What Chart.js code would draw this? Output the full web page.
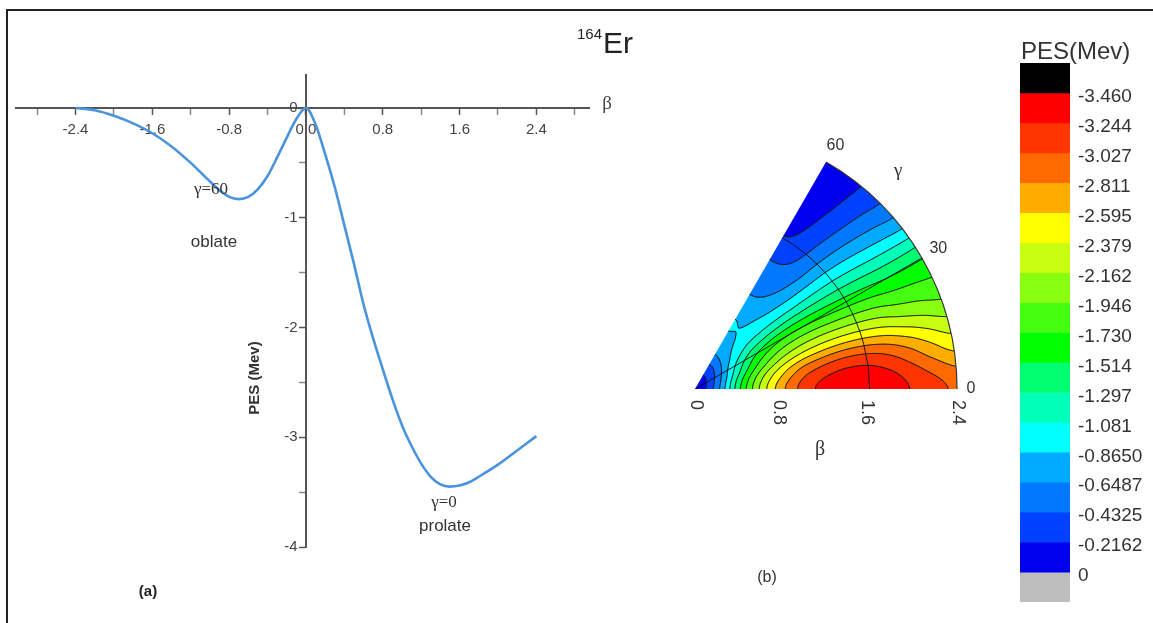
<!DOCTYPE html>
<html><head><meta charset="utf-8">
<script src="https://cdn.jsdelivr.net/npm/chart.js@4.4.1/dist/chart.umd.min.js"></script>
<style>
html,body{margin:0;padding:0;background:#fff;width:1153px;height:623px;overflow:hidden;}
#frame{position:absolute;left:6px;top:9px;width:1147px;height:614px;border-top:2px solid #222;border-left:2px solid #222;box-sizing:border-box;}
canvas{position:absolute;}
#cA{left:0;top:0}
#cB{left:660px;top:100px}
#cC{left:1000px;top:0}
</style></head><body>
<div id="frame"></div>
<canvas id="cA" width="660" height="623"></canvas>
<canvas id="cB" width="340" height="500"></canvas>
<canvas id="cC" width="153" height="623"></canvas>
<script>
// ---------- Panel (a): PES along beta (negative beta = oblate, gamma=60) ----------
const curveBeta = [-2.4,-2.2,-2.0,-1.8,-1.6,-1.4,-1.2,-1.0,-0.9,-0.8,-0.7,-0.6,-0.5,-0.4,-0.3,-0.2,-0.1,0,
                   0.1,0.2,0.3,0.4,0.5,0.6,0.7,0.8,0.9,1.0,1.1,1.2,1.3,1.4,1.5,1.6,1.7,1.8,2.0,2.2,2.4];
const curvePES  = [0,-0.02,-0.07,-0.14,-0.23,-0.35,-0.50,-0.67,-0.75,-0.81,-0.83,-0.81,-0.74,-0.62,-0.45,-0.27,-0.10,0,
                   -0.15,-0.42,-0.72,-1.07,-1.42,-1.79,-2.10,-2.38,-2.65,-2.89,-3.08,-3.24,-3.36,-3.43,-3.45,-3.44,-3.41,-3.36,-3.25,-3.12,-2.99];
const xTickValues = [-2.8,-2.4,-2.0,-1.6,-1.2,-0.8,-0.4,0,0.4,0.8,1.2,1.6,2.0,2.4,2.8];
const xTickLabels = ['','-2.4','','-1.6','','-0.8','','0.0','','0.8','','1.6','','2.4',''];
const yTickValues = [0,-0.5,-1,-1.5,-2,-2.5,-3,-3.5,-4];
const yTickLabels = ['0','','-1','','-2','','-3','','-4'];

// ---------- Panel (b): PES(beta, gamma) grid, one row per gamma ----------
const gridBeta  = [0,0.2,0.4,0.6,0.8,1.0,1.2,1.4,1.6,1.8,2.0,2.2,2.4];
const gridGamma = [0,10,20,30,40,50,60];
const pesGamma0  = [0,-0.55,-1.45,-2.20,-2.75,-3.12,-3.33,-3.43,-3.44,-3.36,-3.22,-3.10,-2.99];
const pesGamma10 = [0,-0.52,-1.37,-2.06,-2.54,-2.88,-3.05,-3.14,-3.13,-3.03,-2.86,-2.66,-2.50];
const pesGamma20 = [0,-0.47,-1.19,-1.74,-2.09,-2.28,-2.36,-2.37,-2.33,-2.25,-2.12,-2.03,-1.95];
const pesGamma30 = [0,-0.41,-1.02,-1.43,-1.65,-1.73,-1.72,-1.67,-1.62,-1.57,-1.52,-1.50,-1.50];
const pesGamma40 = [0,-0.36,-0.84,-1.08,-1.12,-1.10,-1.05,-1.01,-0.97,-0.91,-0.84,-0.77,-0.70];
const pesGamma50 = [0,-0.32,-0.74,-0.88,-0.86,-0.74,-0.62,-0.52,-0.45,-0.39,-0.33,-0.28,-0.24];
const pesGamma60 = [0,-0.31,-0.70,-0.86,-0.84,-0.65,-0.53,-0.41,-0.23,-0.14,-0.08,-0.03,0];
const betaTicks  = [0,0.8,1.6,2.4];
const betaTickLabels = ['0','0.8','1.6','2.4'];
const gammaTicks = [0,30,60];
const gammaTickLabels = ['0','30','60'];

// ---------- Colour scale ----------
const levels = [-3.460,-3.244,-3.027,-2.811,-2.595,-2.379,-2.162,-1.946,-1.730,-1.514,-1.297,-1.081,-0.8650,-0.6487,-0.4325,-0.2162,0];
const levelLabels = ['-3.460','-3.244','-3.027','-2.811','-2.595','-2.379','-2.162','-1.946','-1.730','-1.514','-1.297','-1.081','-0.8650','-0.6487','-0.4325','-0.2162','0'];
const barEnds = [-3.676, 0.216];

// styles
const bandColors = ['#000000','#ff0000','#ff3500','#ff6a00','#ffae00','#ffff00','#c8ff10','#88ff10','#44ff10','#00ff00',
                    '#00ff70','#00ffb8','#00ffff','#00aaff','#0078ff','#0040ff','#0000ee','#bdbdbd'];
const SANS = '"Liberation Sans", Arial, sans-serif';
const SERIF = '"Liberation Serif", "Times New Roman", serif';
Chart.defaults.font.family = SANS;

// ===================== Chart A =====================
const textA = {
  id: 'textA',
  afterDraw(chart) {
    const ctx = chart.ctx;
    ctx.save();
    ctx.fillStyle = '#333';
    ctx.textAlign = 'center'; ctx.textBaseline = 'middle';
    ctx.font = '17px ' + SERIF; ctx.fillText('\u03b3=60', 211, 190);
    ctx.font = '17px ' + SANS; ctx.fillText('oblate', 214, 242);
    ctx.font = '17px ' + SERIF; ctx.fillText('\u03b3=0', 444, 503);
    ctx.font = '17px ' + SANS; ctx.fillText('prolate', 445, 526);
    ctx.font = 'bold 15px ' + SANS; ctx.fillStyle = '#222'; ctx.fillText('(a)', 148, 592);
    ctx.font = '19px ' + SERIF; ctx.fillStyle = '#444'; ctx.fillText('\u03b2', 607, 104);
    ctx.fillStyle = '#222'; ctx.textAlign = 'left'; ctx.textBaseline = 'alphabetic';
    ctx.font = '15px ' + SANS; ctx.fillText('164', 577, 39);
    ctx.font = '30px ' + SANS; ctx.fillText('Er', 603, 53);
    ctx.translate(255, 378); ctx.rotate(-Math.PI / 2);
    ctx.textAlign = 'center'; ctx.textBaseline = 'middle';
    ctx.font = 'bold 15px ' + SANS; ctx.fillStyle = '#333';
    ctx.fillText('PES (Mev)', 0, 0);
    ctx.restore();
  }
};

new Chart(document.getElementById('cA'), {
  type: 'line',
  data: { datasets: [{
    data: curveBeta.map((b, i) => ({x: b, y: curvePES[i]})),
    borderColor: '#4a93dd', borderWidth: 2.6, pointRadius: 0,
    cubicInterpolationMode: 'monotone', fill: false
  }]},
  options: {
    responsive: false, animation: false, devicePixelRatio: 1,
    layout: { padding: { left: 16, right: 71, top: 75, bottom: 76 } },
    plugins: { legend: { display: false }, tooltip: { enabled: false } },
    scales: {
      x: {
        type: 'linear', min: -3.02, max: 2.948, position: { y: 0 },
        afterBuildTicks: s => { s.ticks = xTickValues.map(v => ({ value: v })); },
        ticks: { autoSkip: false, maxRotation: 0, padding: 7, color: '#444', font: { size: 15 },
                 callback: (v, i) => xTickLabels[i] },
        grid: { drawOnChartArea: false, drawTicks: true, tickLength: 6, tickWidth: 1.5,
                tickColor: c => (xTickLabels[c.index] ? '#555' : '#888') },
        border: { display: true, color: '#555', width: 2 }
      },
      y: {
        type: 'linear', min: -4, max: 0.3007, position: { x: 0 },
        afterBuildTicks: s => { s.ticks = yTickValues.map(v => ({ value: v })); },
        ticks: { autoSkip: false, color: '#444', font: { size: 15 },
                 callback: (v, i) => (yTickLabels[i] ? yTickLabels[i] + '  ' : '') },
        grid: { drawOnChartArea: false, drawTicks: true, tickLength: 6, tickWidth: 1.5,
                tickColor: c => (yTickLabels[c.index] ? '#555' : '#888') },
        border: { display: true, color: '#555', width: 2 }
      }
    }
  },
  plugins: [textA]
});

// ===================== Chart B (polar contour) =====================
const polarRows = [pesGamma0, pesGamma10, pesGamma20, pesGamma30, pesGamma40, pesGamma50, pesGamma60];
function cr(p0, p1, p2, p3, t) {
  return 0.5 * ((2 * p1) + (-p0 + p2) * t + (2 * p0 - 5 * p1 + 4 * p2 - p3) * t * t + (-p0 + 3 * p1 - 3 * p2 + p3) * t * t * t);
}
function pesAt(b, g) {
  const nB = gridBeta.length, nG = gridGamma.length;
  const fb = b / (gridBeta[1] - gridBeta[0]), fg = g / (gridGamma[1] - gridGamma[0]);
  const i = Math.min(Math.floor(fb), nB - 2), j = Math.min(Math.floor(fg), nG - 2);
  const tb = fb - i, tg = fg - j;
  const col = (r, k) => r[Math.max(0, Math.min(nB - 1, k))];
  const ri = k => (k < 0 ? -k : (k > nG - 1 ? 2 * (nG - 1) - k : k));
  const rv = k => { const r = polarRows[ri(k)]; return cr(col(r, i - 1), col(r, i), col(r, i + 1), col(r, i + 2), tb); };
  return cr(rv(j - 1), rv(j), rv(j + 1), rv(j + 2), tg);
}
function bandOf(v) {
  if (v < levels[0]) return 0;
  for (let k = 1; k < levels.length; k++) if (v < levels[k]) return k;
  return levels.length;
}
function hexRGB(h) { return [parseInt(h.substr(1, 2), 16), parseInt(h.substr(3, 2), 16), parseInt(h.substr(5, 2), 16)]; }
const bandRGB = bandColors.map(hexRGB);

const polarPlugin = {
  id: 'polarPES',
  beforeDatasetsDraw(chart) {
    const { ctx, scales: { x, y } } = chart;
    const bMax = gridBeta[gridBeta.length - 1];
    const gMax = gridGamma[gridGamma.length - 1];
    const cx = x.getPixelForValue(0), cy = y.getPixelForValue(0);
    const R = x.getPixelForValue(bMax) - cx;
    const left = Math.floor(cx) - 2, right = Math.ceil(cx + R) + 2;
    const top = Math.floor(y.getPixelForValue(bMax * Math.sin(gMax * Math.PI / 180))) - 2, bottom = Math.ceil(cy) + 2;
    const w = right - left + 1, h = bottom - top + 1;
    const vals = new Float32Array(w * h);
    for (let j = 0; j < h; j++) for (let i = 0; i < w; i++) {
      const bx = x.getValueForPixel(left + i + 0.5), by = y.getValueForPixel(top + j + 0.5);
      let b = Math.hypot(bx, by), g = Math.atan2(by, bx) * 180 / Math.PI;
      b = Math.min(Math.max(b, 0), bMax); g = Math.min(Math.max(g, 0), gMax);
      vals[j * w + i] = pesAt(b, g);
    }
    const off = document.createElement('canvas'); off.width = w; off.height = h;
    const octx = off.getContext('2d'); const img = octx.createImageData(w, h);
    for (let k = 0; k < w * h; k++) {
      const c = bandRGB[bandOf(vals[k])];
      img.data[4 * k] = c[0]; img.data[4 * k + 1] = c[1]; img.data[4 * k + 2] = c[2]; img.data[4 * k + 3] = 255;
    }
    octx.putImageData(img, 0, 0);
    const g60 = gMax * Math.PI / 180;
    const sector = () => { ctx.beginPath(); ctx.moveTo(cx, cy); ctx.lineTo(cx + R, cy); ctx.arc(cx, cy, R, 0, -g60, true); ctx.closePath(); };
    ctx.save();
    sector(); ctx.clip();
    ctx.drawImage(off, left, top);
    // contour lines (marching squares)
    ctx.beginPath();
    const V = (i, j) => vals[j * w + i];
    for (const L of levels) {
      for (let j = 0; j < h - 1; j++) for (let i = 0; i < w - 1; i++) {
        const a = V(i, j), b = V(i + 1, j), c = V(i + 1, j + 1), d = V(i, j + 1);
        const sa = a > L, sb = b > L, sc = c > L, sd = d > L;
        if (sa === sb && sb === sc && sc === sd) continue;
        const px = left + i + 0.5, py = top + j + 0.5;
        const pts = [];
        if (sa !== sb) pts.push([px + (L - a) / (b - a), py]);
        if (sb !== sc) pts.push([px + 1, py + (L - b) / (c - b)]);
        if (sd !== sc) pts.push([px + (L - d) / (c - d), py + 1]);
        if (sa !== sd) pts.push([px, py + (L - a) / (d - a)]);
        for (let k = 0; k + 1 < pts.length; k += 2) { ctx.moveTo(pts[k][0], pts[k][1]); ctx.lineTo(pts[k + 1][0], pts[k + 1][1]); }
      }
    }
    ctx.lineWidth = 0.8; ctx.lineCap = 'round'; ctx.strokeStyle = 'rgba(25,25,25,0.85)'; ctx.stroke();
    // reference lines: gamma = 30 ray, beta = 1.6 arc
    ctx.beginPath();
    const g30 = gammaTicks[1] * Math.PI / 180;
    ctx.moveTo(cx, cy); ctx.lineTo(cx + R * Math.cos(g30), cy - R * Math.sin(g30));
    const r16 = x.getPixelForValue(betaTicks[2]) - cx;
    ctx.moveTo(cx + r16, cy); ctx.arc(cx, cy, r16, 0, -g60, true);
    ctx.lineWidth = 1; ctx.strokeStyle = 'rgba(10,10,10,0.9)'; ctx.stroke();
    ctx.restore();
    // outline of the outer arc
    ctx.save();
    ctx.beginPath(); ctx.arc(cx, cy, R, 0, -g60, true);
    ctx.lineWidth = 1.2; ctx.strokeStyle = '#333'; ctx.stroke();
    ctx.restore();
  },
  afterDraw(chart) {
    const { ctx, scales: { x, y } } = chart;
    const cx = x.getPixelForValue(0), cy = y.getPixelForValue(0);
    const R = x.getPixelForValue(gridBeta[gridBeta.length - 1]) - cx;
    ctx.save();
    ctx.fillStyle = '#333';
    ctx.font = '16px ' + SANS; ctx.textAlign = 'center'; ctx.textBaseline = 'middle';
    gammaTicks.forEach((g, k) => {
      const a = g * Math.PI / 180, r = R + (g === 0 ? 14 : 19);
      ctx.fillText(gammaTickLabels[k], cx + r * Math.cos(a), cy - r * Math.sin(a));
    });
    ctx.font = '19px ' + SERIF;
    const ag = 47 * Math.PI / 180;
    ctx.fillText('\u03b3', cx + (R + 36) * Math.cos(ag), cy - (R + 36) * Math.sin(ag));
    ctx.font = '18px ' + SANS;
    betaTicks.forEach((b, k) => {
      const px = x.getPixelForValue(b) - (k === 0 || k === betaTicks.length - 1 ? 0 : 4);
      ctx.save(); ctx.translate(px + 1, cy + 11); ctx.rotate(Math.PI / 2);
      ctx.textAlign = 'left'; ctx.textBaseline = 'middle';
      ctx.fillText(betaTickLabels[k], 0, 0); ctx.restore();
    });
    ctx.font = '20px ' + SERIF; ctx.textAlign = 'center';
    ctx.fillText('\u03b2', cx + 125, cy + 61);
    ctx.font = '16px ' + SANS;
    ctx.fillText('(b)', cx + 72, cy + 189);
    ctx.restore();
  }
};

new Chart(document.getElementById('cB'), {
  type: 'scatter',
  data: { datasets: [] },
  options: {
    responsive: false, animation: false, devicePixelRatio: 1,
    layout: { padding: { left: 35, right: 43, top: 27, bottom: 211 } },
    plugins: { legend: { display: false }, tooltip: { enabled: false } },
    scales: {
      x: { type: 'linear', min: 0, max: 2.4, display: false },
      y: { type: 'linear', min: 0, max: 2.4, display: false }
    }
  },
  plugins: [polarPlugin]
});

// ===================== Chart C (colour bar) =====================
const edges = [barEnds[0], ...levels, barEnds[1]];
const titleC = {
  id: 'titleC',
  afterDraw(chart) {
    const { ctx, chartArea } = chart;
    ctx.save(); ctx.fillStyle = '#333'; ctx.font = '24px ' + SANS;
    ctx.textAlign = 'left'; ctx.textBaseline = 'alphabetic';
    ctx.fillText('PES(Mev)', chartArea.left + 1, chartArea.top - 4);
    ctx.restore();
  }
};
new Chart(document.getElementById('cC'), {
  type: 'bar',
  data: {
    labels: ['PES'],
    datasets: bandColors.map((c, k) => ({ data: [[edges[k], edges[k + 1]]], backgroundColor: c, borderWidth: 0 }))
  },
  options: {
    responsive: false, animation: false, devicePixelRatio: 1,
    layout: { padding: { left: 20, right: 0, top: 63, bottom: 21 } },
    datasets: { bar: { grouped: false, barPercentage: 1, categoryPercentage: 1 } },
    plugins: { legend: { display: false }, tooltip: { enabled: false } },
    scales: {
      x: { type: 'category', display: false, offset: true },
      y: {
        type: 'linear', position: 'right', reverse: true, min: barEnds[0], max: barEnds[1],
        afterBuildTicks: s => { s.ticks = levels.map(v => ({ value: v })); },
        afterFit: s => { s.width = 83; },
        ticks: { autoSkip: false, padding: 8, labelOffset: 4, color: '#333', font: { size: 19 },
                 callback: (v, i) => levelLabels[i] },
        grid: { display: false, drawTicks: false, tickLength: 0 },
        border: { display: false }
      }
    }
  },
  plugins: [titleC]
});
</script>
</body></html>
